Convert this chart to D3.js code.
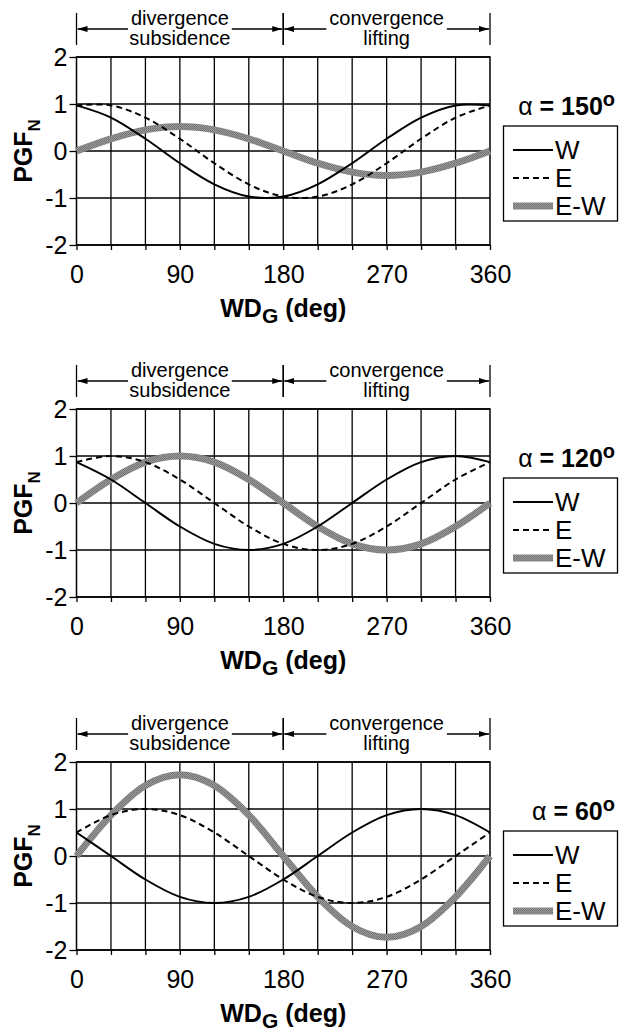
<!DOCTYPE html>
<html>
<head>
<meta charset="utf-8">
<script src="https://cdn.jsdelivr.net/npm/d3@7"></script>
<style>
  body { margin: 0; background: #fff; }
  svg { display: block; font-family: "Liberation Sans", Arial, sans-serif; }
</style>
</head>
<body>
<div id="chart"></div>
<script>
// wind direction samples (deg)
var wd = [0, 30, 60, 90, 120, 150, 180, 210, 240, 270, 300, 330, 360]
var alphas = [150, 120, 60]
var seriesNames = ['W', 'E', 'E-W']

// alpha = 150
var w150 = [0.97, 0.71, 0.26, -0.26, -0.71, -0.97, -0.97, -0.71, -0.26, 0.26, 0.71, 0.97, 0.97]
var e150 = [0.97, 0.97, 0.71, 0.26, -0.26, -0.71, -0.97, -0.97, -0.71, -0.26, 0.26, 0.71, 0.97]
var ew150 = [0, 0.26, 0.45, 0.52, 0.45, 0.26, 0, -0.26, -0.45, -0.52, -0.45, -0.26, 0]
// alpha = 120
var w120 = [0.87, 0.5, 0, -0.5, -0.87, -1, -0.87, -0.5, 0, 0.5, 0.87, 1, 0.87]
var e120 = [0.87, 1, 0.87, 0.5, 0, -0.5, -0.87, -1, -0.87, -0.5, 0, 0.5, 0.87]
var ew120 = [0, 0.5, 0.87, 1, 0.87, 0.5, 0, -0.5, -0.87, -1, -0.87, -0.5, 0]
// alpha = 60
var w60 = [0.5, 0, -0.5, -0.87, -1, -0.87, -0.5, 0, 0.5, 0.87, 1, 0.87, 0.5]
var e60 = [0.5, 0.87, 1, 0.87, 0.5, 0, -0.5, -0.87, -1, -0.87, -0.5, 0, 0.5]
var ew60 = [0, 0.87, 1.5, 1.73, 1.5, 0.87, 0, -0.87, -1.5, -1.73, -1.5, -0.87, 0]

var panelSeries = [[w150, e150, ew150], [w120, e120, ew120], [w60, e60, ew60]]
var yTicks = [-2, -1, 0, 1, 2]
var xLabelTicks = [0, 90, 180, 270, 360]
var zones = [{ from: 0, to: 180, top: 'divergence', bottom: 'subsidence' },
             { from: 180, to: 360, top: 'convergence', bottom: 'lifting' }]

var width = 619, height = 1031
var svg = d3.select('#chart').append('svg')
    .attr('width', width).attr('height', height)

var defs = svg.append('defs')
defs.append('marker').attr('id', 'arrow')
    .attr('viewBox', '0 0 10 10').attr('refX', 10).attr('refY', 5)
    .attr('markerWidth', 10).attr('markerHeight', 10)
    .attr('markerUnits', 'userSpaceOnUse')
    .attr('orient', 'auto')
    .append('path').attr('d', 'M0,2 L10,5 L0,8 Z').attr('fill', '#000')

// gray halftone look for the E-W line
var pat = defs.append('pattern').attr('id', 'stipple')
    .attr('width', 2).attr('height', 2).attr('patternUnits', 'userSpaceOnUse')
pat.append('rect').attr('width', 2).attr('height', 2).attr('fill', '#9a9a9a')
pat.append('rect').attr('width', 1).attr('height', 1).attr('fill', '#6e6e6e')
pat.append('rect').attr('x', 1).attr('y', 1).attr('width', 1).attr('height', 1).attr('fill', '#7a7a7a')

var tops = [57, 409, 762]
var plotH = 188
var left = 76.5, right = 490

var line = d3.line().curve(d3.curveCardinal.tension(0))

tops.forEach(function (top, p) {
    var x = d3.scaleLinear().domain([0, 360]).range([left, right])
    var y = d3.scaleLinear().domain([-2, 2]).range([top + plotH, top])
    var g = svg.append('g')

    // grid
    g.selectAll('.vgrid').data(d3.range(30, 360, 30)).enter().append('line')
        .attr('x1', d => x(d)).attr('x2', d => x(d))
        .attr('y1', top).attr('y2', top + plotH)
        .attr('stroke', '#000').attr('stroke-width', 1.3)
    g.selectAll('.hgrid').data(yTicks).enter().append('line')
        .attr('x1', left).attr('x2', right)
        .attr('y1', d => y(d)).attr('y2', d => y(d))
        .attr('stroke', '#000').attr('stroke-width', 1.3)
    g.append('rect').attr('x', left).attr('y', top).attr('width', right - left).attr('height', plotH)
        .attr('fill', 'none').attr('stroke', '#000').attr('stroke-width', 1.5)

    // axes
    var xAxis = g.append('g').attr('transform', `translate(0,${top + plotH})`)
        .call(d3.axisBottom(x).tickValues(d3.range(0, 361, 30)).tickSize(5).tickSizeOuter(0).tickPadding(15)
            .tickFormat(d => xLabelTicks.indexOf(d) >= 0 ? d : ''))
    var yAxis = g.append('g').attr('transform', `translate(${left},0)`)
        .call(d3.axisLeft(y).tickValues(yTicks).tickSize(7).tickSizeOuter(0).tickPadding(2)
            .tickFormat(d => String(d)))
    ;[xAxis, yAxis].forEach(function (a) {
        a.select('.domain').remove()
        a.selectAll('line').attr('stroke', '#000').attr('stroke-width', 1.3)
        a.selectAll('text').attr('font-size', 25).attr('fill', '#000')
            .attr('font-family', '"Liberation Sans", Arial, sans-serif')
    })

    // series
    var s = panelSeries[p]
    var pts = k => wd.map((d, i) => [x(d), y(s[k][i])])
    g.append('path').attr('d', line(pts(2)))
        .attr('fill', 'none').attr('stroke', 'url(#stipple)').attr('stroke-width', 7)
    g.append('path').attr('d', line(pts(0)))
        .attr('fill', 'none').attr('stroke', '#000').attr('stroke-width', 2)
    g.append('path').attr('d', line(pts(1)))
        .attr('fill', 'none').attr('stroke', '#000').attr('stroke-width', 2)
        .attr('stroke-dasharray', '6,4')

    // zone header with arrows
    zones.forEach(function (z) {
        [z.from, z.to].forEach(function (v) {
            g.append('line').attr('x1', x(v)).attr('x2', x(v))
                .attr('y1', top - 44).attr('y2', top - 12)
                .attr('stroke', '#000').attr('stroke-width', 1.3)
        })
        var cx = (x(z.from) + x(z.to)) / 2
        var t1 = g.append('text').attr('x', cx).attr('y', top - 32)
            .attr('text-anchor', 'middle').attr('font-size', 20).text(z.top)
        g.append('text').attr('x', cx).attr('y', top - 12)
            .attr('text-anchor', 'middle').attr('font-size', 20).text(z.bottom)
        var half = t1.node().getComputedTextLength() / 2
        g.append('line').attr('x1', cx - half - 3).attr('x2', x(z.from) + 1)
            .attr('y1', top - 28).attr('y2', top - 28)
            .attr('stroke', '#000').attr('stroke-width', 1.3).attr('marker-end', 'url(#arrow)')
        g.append('line').attr('x1', cx + half + 3).attr('x2', x(z.to) - 1)
            .attr('y1', top - 28).attr('y2', top - 28)
            .attr('stroke', '#000').attr('stroke-width', 1.3).attr('marker-end', 'url(#arrow)')
    })

    // axis titles
    var xt = g.append('text').attr('x', (left + right) / 2).attr('y', top + plotH + 72)
        .attr('text-anchor', 'middle').attr('font-size', 25).attr('font-weight', 'bold')
    xt.append('tspan').text('WD')
    xt.append('tspan').attr('font-size', 21).attr('dy', 6).text('G')
    xt.append('tspan').attr('dy', -6).text(' (deg)')

    var yt = g.append('text').attr('transform', `translate(32,${top + plotH / 2}) rotate(-90)`)
        .attr('text-anchor', 'middle').attr('font-size', 25).attr('font-weight', 'bold')
    yt.append('tspan').text('PGF')
    yt.append('tspan').attr('font-size', 17).attr('dy', 8).text('N')

    // alpha label
    var at = g.append('text').attr('x', 615).attr('y', y(1) + 11)
        .attr('text-anchor', 'end').attr('font-size', 25)
    at.append('tspan').text('α')
    at.append('tspan').attr('font-weight', 'bold').text(' = ' + alphas[p])
    at.append('tspan').attr('font-weight', 'bold').attr('font-size', 20).attr('dy', -9).text('o')

    // legend
    var ly = y(1) + 22
    g.append('rect').attr('x', 503.5).attr('y', ly).attr('width', 114).attr('height', 95)
        .attr('fill', '#fff').attr('stroke', '#000').attr('stroke-width', 1.3)
    seriesNames.forEach(function (n, i) {
        var ry = ly + 24 + i * 28
        var l = g.append('line').attr('x1', 513).attr('x2', 553).attr('y1', ry).attr('y2', ry)
        if (i === 2) l.attr('stroke', 'url(#stipple)').attr('stroke-width', 7)
        else l.attr('stroke', '#000').attr('stroke-width', 2)
        if (i === 1) l.attr('stroke-dasharray', '6,4')
        g.append('text').attr('x', 555).attr('y', ry + 9).attr('font-size', 26).text(n)
    })
})
</script>
</body>
</html>
